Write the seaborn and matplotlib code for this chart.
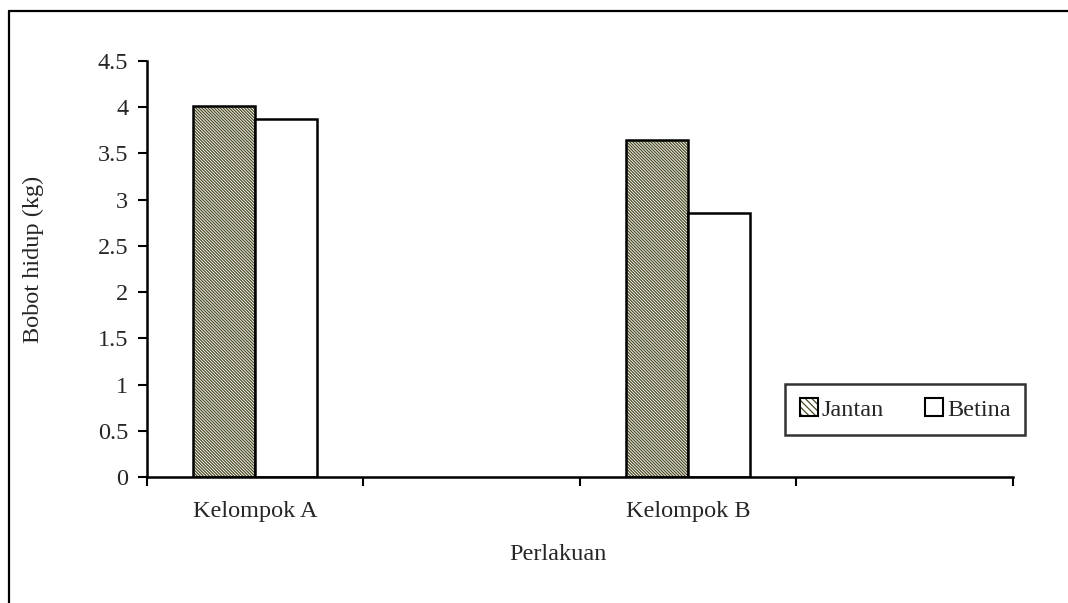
import matplotlib
matplotlib.use("Agg")
import matplotlib.pyplot as plt
from matplotlib.lines import Line2D
from matplotlib.patches import Patch
import numpy as np
import pandas as pd
import seaborn as sns

# Category slots on the x axis (two labelled groups, two empty slots)
categories = ["Kelompok A", "Slot 2", "Kelompok B", "Slot 4"]
tick_labels = ["Kelompok A", "", "Kelompok B", ""]
series = ["Jantan", "Betina"]
jantan = [4.01, np.nan, 3.64, np.nan]
betina = [3.87, np.nan, 2.86, np.nan]

df = pd.DataFrame({
    "Perlakuan": categories * 2,
    "Jenis": ["Jantan"] * len(categories) + ["Betina"] * len(categories),
    "Bobot": jantan + betina,
})

HATCH_COLOR = "#4b4b24"
FS = 17.5

sns.set_style("white")
plt.rcParams["font.family"] = ["Liberation Serif", "DejaVu Serif"]
plt.rcParams["hatch.linewidth"] = 0.9

fig = plt.figure(figsize=(10.68, 6.03), dpi=100)
ax = fig.add_axes([0.1376, 0.209, 0.8109, 0.6899])

sns.barplot(data=df, x="Perlakuan", y="Bobot", hue="Jenis",
            order=categories, hue_order=series,
            palette=["white", "white"], saturation=1, width=0.574, dodge=True,
            edgecolor="black", linewidth=1.8, errorbar=None,
            legend=False, ax=ax)


def hatch_patch(p, pattern):
    p.set_hatch(pattern)
    if hasattr(p, "set_hatchcolor"):
        p.set_hatchcolor(HATCH_COLOR)
    else:
        p._hatch_color = matplotlib.colors.to_rgba(HATCH_COLOR)


# Diagonal hatch on the first series only
for p in ax.containers[0]:
    hatch_patch(p, "\\" * 11)

ax.set_xlim(-0.5, 3.5)
ax.set_ylim(0, 4.5)
ax.set_yticks(np.arange(0, 4.51, 0.5))
ax.set_yticklabels(["0", "0.5", "1", "1.5", "2", "2.5", "3", "3.5", "4", "4.5"])

# Tick marks on slot boundaries, labels at slot centres
ax.set_xticks(np.arange(-0.5, 3.6, 1.0))
ax.set_xticklabels([""] * 5)
ax.set_xticks(np.arange(0, 4), minor=True)
ax.set_xticklabels(tick_labels, minor=True)
ax.tick_params(axis="x", which="major", direction="out", length=6.5, width=1.5,
               color="black", bottom=True)
ax.tick_params(axis="x", which="minor", length=0, pad=17, labelsize=FS)
ax.tick_params(axis="y", direction="out", length=6.5, width=1.5, color="black",
               left=True, labelsize=FS, pad=7)

for s in ["top", "right"]:
    ax.spines[s].set_visible(False)
for s in ["left", "bottom"]:
    ax.spines[s].set_color("black")
    ax.spines[s].set_linewidth(1.8)

ax.set_xlabel("")
ax.set_ylabel("")
fig.text(33 / 1068, 1 - 259 / 603, "Bobot hidup (kg)", rotation=90,
         ha="center", va="center", fontsize=FS)
fig.text(558 / 1068, 1 - 555 / 603, "Perlakuan", ha="center", va="center",
         fontsize=FS)

handles = [Patch(facecolor="white", edgecolor="black", linewidth=1.5),
           Patch(facecolor="white", edgecolor="black", linewidth=1.5)]
leg = fig.legend(handles, series, loc="center",
                 bbox_to_anchor=(905 / 1068, 1 - 409.5 / 603), ncol=2,
                 frameon=True, fancybox=False, fontsize=FS,
                 handlelength=0.75, handleheight=0.75, handletextpad=0.15,
                 columnspacing=1.7, borderpad=0.6)
leg.get_frame().set_edgecolor("black")
leg.get_frame().set_linewidth(1.8)
hatch_patch(leg.legend_handles[0], "\\" * 5)

# Outer chart frame
fig.add_artist(Line2D([9 / 1068, 9 / 1068], [0, 1 - 11 / 603],
                      transform=fig.transFigure, color="black", lw=1.6))
fig.add_artist(Line2D([9 / 1068, 1], [1 - 11 / 603, 1 - 11 / 603],
                      transform=fig.transFigure, color="black", lw=1.6))

fig.savefig("out.png", dpi=100)
